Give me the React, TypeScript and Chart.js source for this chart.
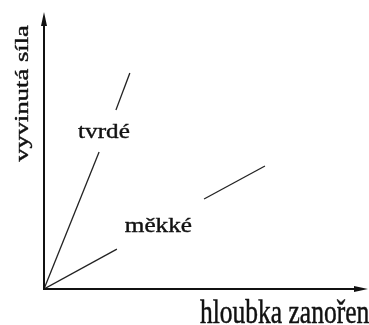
import React, { useEffect, useRef } from "react";
import { Chart, registerables } from "chart.js";

Chart.register(...registerables);

// Data (arbitrary units, 0..100 on both axes)
const hardX = [0, 17.0, 22.2, 26.5];
const hardY = [0, 49.5, 64.6, 78.0];
const softX = [0, 22.5, 49.4, 68.2];
const softY = [0, 14.4, 32.5, 44.4];

const labelNames = ["tvrdé", "měkké"];
const labelX = [18.5, 35.3];
const labelY = [54.5, 20.6];

const xTitle = "hloubka zanoření";
const yTitle = "vyvinutá síla";

const FONT = "'Liberation Serif', 'Times New Roman', serif";
const INK = "#111";

function heavyText(ctx: any, text: string, x: number, y: number, w: number) {
  ctx.lineWidth = w;
  ctx.lineJoin = "round";
  ctx.strokeText(text, x, y);
  ctx.fillText(text, x, y);
}

const annotPlugin = {
  id: "annot",
  afterDraw(chart: any) {
    const { ctx, chartArea: a, scales } = chart;
    const sx = scales.x;
    const sy = scales.y;
    const x0 = sx.getPixelForValue(0);
    const y0 = sy.getPixelForValue(0);
    ctx.save();
    ctx.strokeStyle = INK;
    ctx.fillStyle = INK;
    ctx.lineWidth = 2;
    // y axis
    ctx.beginPath();
    ctx.moveTo(x0, y0 + 1);
    ctx.lineTo(x0, a.top + 6);
    ctx.stroke();
    ctx.beginPath();
    ctx.moveTo(x0, a.top);
    ctx.lineTo(x0 - 3, a.top + 14);
    ctx.lineTo(x0 + 3, a.top + 14);
    ctx.closePath();
    ctx.fill();
    // x axis
    ctx.beginPath();
    ctx.moveTo(x0 - 1, y0);
    ctx.lineTo(a.right - 6, y0);
    ctx.stroke();
    ctx.beginPath();
    ctx.moveTo(a.right, y0);
    ctx.lineTo(a.right - 14, y0 - 3);
    ctx.lineTo(a.right - 14, y0 + 3);
    ctx.closePath();
    ctx.fill();

    // series labels
    ctx.textAlign = "center";
    ctx.textBaseline = "alphabetic";
    ctx.font = `21px ${FONT}`;
    labelNames.forEach((name, i) => {
      const px = sx.getPixelForValue(labelX[i]);
      const py = sy.getPixelForValue(labelY[i]);
      ctx.save();
      ctx.translate(px, py);
      ctx.scale(1.2, 1);
      heavyText(ctx, name, 0, 0, 0.4);
      ctx.restore();
    });

    // y title (rotated, stretched along text)
    ctx.save();
    ctx.font = `19px ${FONT}`;
    ctx.translate(a.left - 16, (a.top + y0) / 2 - 57);
    ctx.rotate(-Math.PI / 2);
    ctx.scale(1.4, 1);
    ctx.textAlign = "center";
    heavyText(ctx, yTitle, 0, 0, 0.4);
    ctx.restore();

    // x title
    ctx.save();
    ctx.font = `34px ${FONT}`;
    ctx.translate(a.left + 156, y0 + 33.5);
    ctx.scale(0.75, 1);
    ctx.textAlign = "left";
    heavyText(ctx, xTitle, 0, 0, 0.5);
    ctx.restore();

    ctx.restore();
  },
};

export default function App() {
  const ref = useRef<HTMLCanvasElement | null>(null);
  useEffect(() => {
    if (!ref.current) return;
    const gapColor = (c: any) => (c.p0DataIndex === 1 ? "rgba(0,0,0,0)" : "#222");
    const chart = new Chart(ref.current, {
      type: "scatter",
      data: {
        datasets: [
          {
            label: labelNames[0],
            data: hardX.map((v, i) => ({ x: v, y: hardY[i] })),
            showLine: true,
            borderColor: "#222",
            borderWidth: 1.3,
            pointRadius: 0,
            segment: { borderColor: gapColor },
          },
          {
            label: labelNames[1],
            data: softX.map((v, i) => ({ x: v, y: softY[i] })),
            showLine: true,
            borderColor: "#222",
            borderWidth: 1.3,
            pointRadius: 0,
            segment: { borderColor: gapColor },
          },
        ],
      },
      options: {
        responsive: false,
        animation: false,
        layout: { padding: { left: 44, top: 12, right: 8, bottom: 36 } },
        plugins: { legend: { display: false }, tooltip: { enabled: false } },
        scales: {
          x: { type: "linear", min: 0, max: 100, display: false },
          y: { type: "linear", min: 0, max: 100, display: false },
        },
      },
      plugins: [annotPlugin],
    });
    return () => chart.destroy();
  }, []);
  return (
    <div
      style={{
        position: "fixed",
        left: 0,
        top: 0,
        width: 369,
        height: 325,
        overflow: "hidden",
        background: "#fff",
      }}
    >
      <canvas ref={ref} width={376} height={325} style={{ display: "block" }} />
    </div>
  );
}
